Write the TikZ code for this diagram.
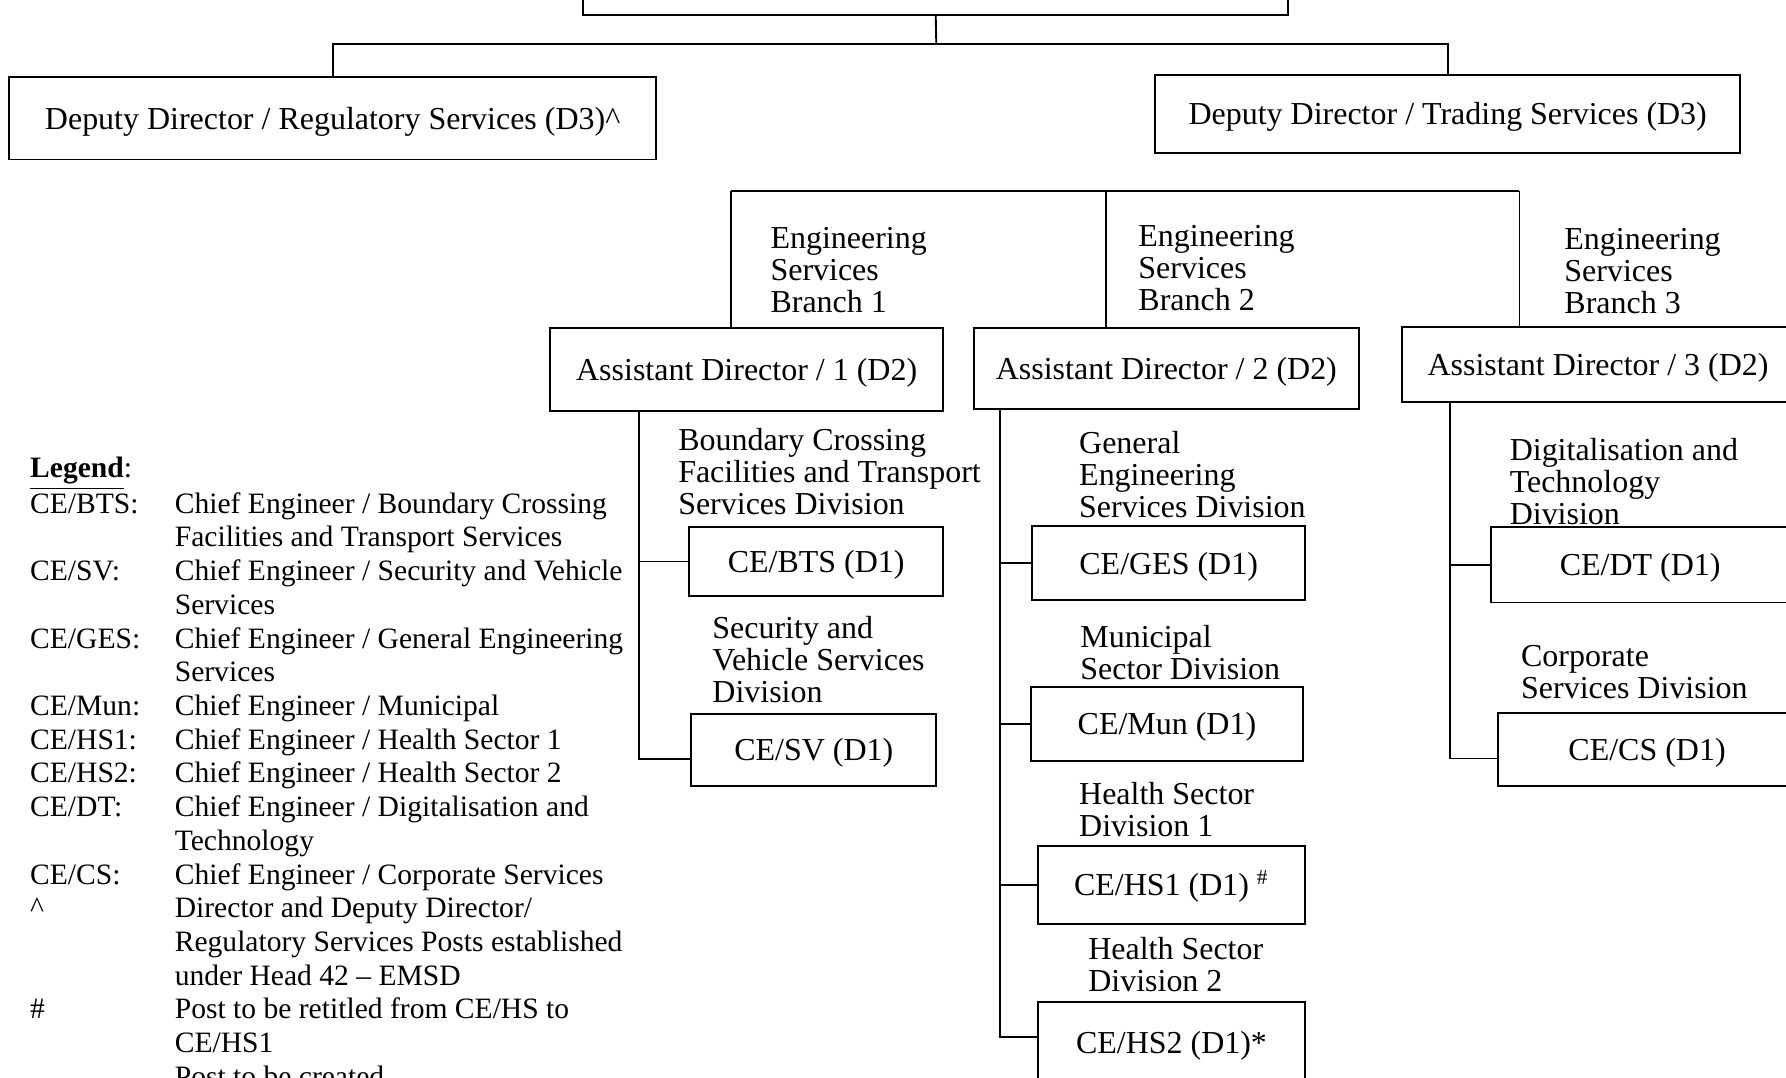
\documentclass[tikz,border=0pt]{standalone}
\usepackage{fontspec}
\setmainfont{Liberation Serif}
\usetikzlibrary{calc}

\tikzset{
  post/.style={draw, line width=.7pt, inner sep=0pt, align=center, text height=8.2pt, text depth=0pt},
  lbl/.style={anchor=west, align=left, inner sep=0pt},
  link/.style={line width=.7pt}
}

\begin{document}
\begin{tikzpicture}[x=0.4275pt, y=-0.4275pt, font=\fontsize{12}{12}\selectfont]
\useasboundingbox (0,0) rectangle (1568,946);
\clip (0,0) rectangle (1568,946);
% director and deputies
\node[post, minimum width=264.6pt, minimum height=22.7pt] (dir) at (821.5,-13.5) {};
\node[post, minimum width=242.8pt, minimum height=30.8pt] (ddrs) at (292,104) {Deputy Director / Regulatory Services (D3)\textasciicircum};
\node[post, minimum width=219.7pt, minimum height=29.1pt] (ddts) at (1271,100) {Deputy Director / Trading Services (D3)};
\coordinate (hub) at (822,39);
\draw[link] (dir.south) -- (hub);
\draw[link] (hub) -| (ddrs.north);
\draw[link] (hub) -| (ddts.north);

% assistant directors
\node[post, minimum width=147.5pt, minimum height=31.2pt] (ad1) at (655.5,324.5) {Assistant Director / 1 (D2)};
\node[post, minimum width=144.5pt, minimum height=30.4pt] (ad2) at (1024,323.5) {Assistant Director / 2 (D2)};
\node[post, minimum width=147.1pt, minimum height=28.2pt] (ad3) at (1403,320) {Assistant Director / 3 (D2)};
\node[lbl] (br1) at (676,237) {Engineering\\Services\\Branch 1};
\node[lbl] (br2) at (999,235) {Engineering\\Services\\Branch 2};
\node[lbl] (br3) at (1373,238) {Engineering\\Services\\Branch 3};
\coordinate (b1) at (642,168);
\coordinate (b2) at (971,168);
\coordinate (b3) at (1334,168);
\draw[link] (b1) -- (b3);
\draw[link] (b1) -- (b1 |- ad1.north);
\draw[link] (b2) -- (b2 |- ad2.north);
\draw[link] (b3) -- (b3 |- ad3.north);

% branch 1
\node[post, minimum width=95.3pt, minimum height=25.7pt] (cebts) at (716.5,493) {CE/BTS (D1)};
\node[post, minimum width=91.9pt, minimum height=26.9pt] (cesv) at (714.5,658.5) {CE/SV (D1)};
\node[lbl] (dbts) at (595,414) {Boundary Crossing\\Facilities and Transport\\Services Division};
\node[lbl] (dsv) at (625,579) {Security and\\Vehicle Services\\Division};
\coordinate (t1) at (561,0);
\draw[link] (ad1.south -| t1) |- ([yshift=-3.2pt]cesv.west);
\draw[link] (cebts.west) -- (cebts.west -| t1);

% branch 2
\node[post, minimum width=102.6pt, minimum height=27.8pt] (ceges) at (1026,494.5) {CE/GES (D1)};
\node[post, minimum width=102.2pt, minimum height=27.8pt] (cemun) at (1024.5,635.5) {CE/Mun (D1)};
\node[post, minimum width=100.5pt, minimum height=29.1pt] (cehs1) at (1028.5,777) {CE/HS1 (D1) \textsuperscript{\#}};
\node[post, minimum width=100.5pt, minimum height=29.9pt] (cehs2) at (1028.5,915) {CE/HS2 (D1)*};
\node[lbl] (dges) at (947,417) {General\\Engineering\\Services Division};
\node[lbl] (dmun) at (948,572.5) {Municipal\\Sector Division};
\node[lbl] (dhs1) at (947,710.5) {Health Sector\\Division 1};
\node[lbl] (dhs2) at (955,846.5) {Health Sector\\Division 2};
\coordinate (t2) at (878,0);
\draw[link] (ad2.south -| t2) |- ([yshift=2.1pt]cehs2.west);
\draw[link] (ceges.west) -- (ceges.west -| t2);
\draw[link] (cemun.west) -- (cemun.west -| t2);
\draw[link] (cehs1.west) -- (cehs1.west -| t2);

% branch 3
\node[post, minimum width=112pt, minimum height=28.2pt] (cedt) at (1440,496) {CE/DT (D1)};
\node[post, minimum width=112pt, minimum height=27.4pt] (cecs) at (1446,658) {CE/CS (D1)};
\node[lbl] (ddt) at (1325,423) {Digitalisation and\\Technology\\Division};
\node[lbl] (dcs) at (1335,590) {Corporate\\Services Division};
\coordinate (t3) at (1273,0);
\draw[link] (ad3.south -| t3) |- ([yshift=-3.4pt]cecs.west);
\draw[link] (cedt.west) -- (cedt.west -| t3);

% legend
\node[anchor=base west, inner sep=0pt, font=\fontsize{11.1}{12.65}\selectfont] (legend) at (26,419.5) {%
\begin{tabular}[t]{@{}p{54.3pt}@{}l@{}}
\textbf{\underline{Legend}}: & \\
CE/BTS: & Chief Engineer / Boundary Crossing \\
 & Facilities and Transport Services \\
CE/SV: & Chief Engineer / Security and Vehicle \\
 & Services \\
CE/GES: & Chief Engineer / General Engineering \\
 & Services \\
CE/Mun: & Chief Engineer / Municipal \\
CE/HS1: & Chief Engineer / Health Sector 1 \\
CE/HS2: & Chief Engineer / Health Sector 2 \\
CE/DT: & Chief Engineer / Digitalisation and \\
 & Technology \\
CE/CS: & Chief Engineer / Corporate Services \\
\textasciicircum & Director and Deputy Director/ \\
 & Regulatory Services Posts established \\
 & under Head 42 \textendash{} EMSD \\
\# & Post to be retitled from CE/HS to \\
 & CE/HS1 \\
* & Post to be created
\end{tabular}};
\end{tikzpicture}
\end{document}
